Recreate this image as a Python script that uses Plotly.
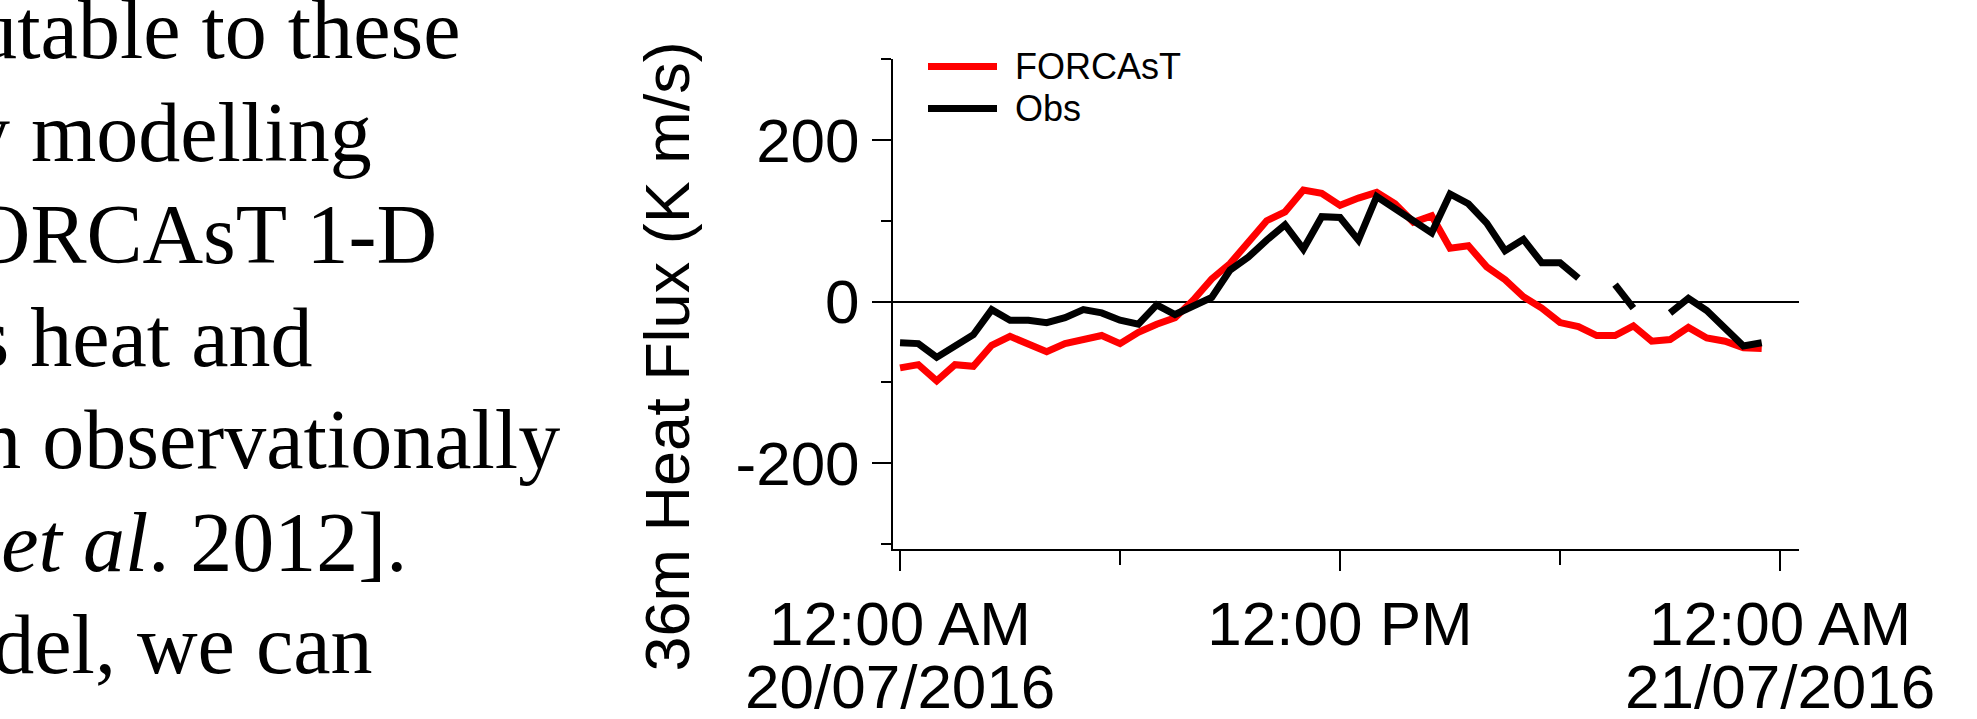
import pandas as pd
import plotly.graph_objects as go

# Half-hourly 36 m sensible heat flux, 20 July 2016
times = pd.date_range("2016-07-20 00:00", periods=48, freq="30min")

forcast = [-82, -78, -98, -78, -80, -54, -43, -52, -62, -52, -47, -42,
           -52, -38, -28, -20, 2, 28, 47, 72, 100, 111, 138, 134,
           119, 128, 135, 121, 98, 106, 66, 69, 43, 27, 6, -8,
           -26, -31, -42, -42, -30, -49, -47, -32, -45, -49, -57, -58]

obs = [-51, -52, -69, -56, -41, -10, -23, -23, -26, -20, -10, -14,
       -23, -28, -4, -16, -6, 5, 39, 55, 76, 95, 65, 105,
       104, 76, 130, 115, 102, 85, 133, 121, 97, 63, 77, 48,
       48, 29, None, 21, -8, None, -14, 4, -11, -33, -55, -51]

series_names = ["FORCAsT", "Obs"]
y_tick_values = [-200, 0, 200]
y_tick_labels = ["-200", "0", "200"]
y_minor_values = [-300, -100, 100, 300]
x_tick_values = ["2016-07-20 00:00", "2016-07-20 12:00", "2016-07-21 00:00"]
x_tick_times = ["12:00 AM", "12:00 PM", "12:00 AM"]
x_tick_dates = ["20/07/2016", "", "21/07/2016"]
x_minor_values = ["2016-07-20 06:00", "2016-07-20 18:00"]

# Surrounding paragraph text (serif body text beside the figure)
paragraph = [
    "attributable to these",
    "by modelling",
    "FORCAsT 1-D",
    "simulates heat and",
    "an observationally",
    "[Bryan <i>et al</i>. 2012].",
    "model, we can",
]
paragraph_right = [460, 372, 437, 312, 560, 407, 372]

W, H = 1977, 719
L, R, T, B = 893, 1799, 59, 549

def px(x):
    return (x - L) / (R - L)

def py(y):
    return (B - y) / (B - T)

SANS = "Liberation Sans, Arial, sans-serif"
SERIF = "Liberation Serif, Times New Roman, serif"
LINE_W = 7

fig = go.Figure()
fig.add_trace(go.Scatter(x=times, y=forcast, mode="lines", name=series_names[0],
                         line=dict(color="#ff0000", width=LINE_W), showlegend=False))
fig.add_trace(go.Scatter(x=times, y=obs, mode="lines", name=series_names[1],
                         line=dict(color="#000000", width=LINE_W), showlegend=False,
                         connectgaps=False))

fig.update_layout(
    width=W, height=H,
    margin=dict(l=L, r=W - R, t=T, b=H - B, pad=0),
    paper_bgcolor="white", plot_bgcolor="white",
    font=dict(family=SANS, color="black"),
)

fig.update_xaxes(
    type="date",
    range=["2016-07-19 23:48:30", "2016-07-21 00:31:00"],
    tickmode="array", tickvals=x_tick_values, ticktext=x_tick_times,
    ticks="outside", ticklen=20, tickwidth=2, tickcolor="black",
    minor=dict(tickvals=x_minor_values, ticks="outside", ticklen=14,
               tickwidth=2, tickcolor="black", showgrid=False),
    showline=True, linewidth=2, linecolor="black",
    showgrid=False, zeroline=False,
    tickfont=dict(family=SANS, size=62, color="black"),
)

fig.update_yaxes(
    range=[-306, 300],
    tickmode="array", tickvals=y_tick_values, ticktext=y_tick_labels,
    ticks="outside", ticklen=19, tickwidth=2, tickcolor="black",
    minor=dict(tickvals=y_minor_values, ticks="outside", ticklen=10,
               tickwidth=2, tickcolor="black", showgrid=False),
    showline=True, linewidth=2, linecolor="black",
    showgrid=False, zeroline=True, zerolinecolor="black", zerolinewidth=2,
    tickfont=dict(family=SANS, size=62, color="black"),
)

annotations = []

# Date line under each time label
for xv, d in zip(x_tick_values, x_tick_dates):
    if d:
        annotations.append(dict(x=xv, xref="x", y=py(686.5), yref="paper",
                                text=d, showarrow=False, xanchor="center",
                                yanchor="middle",
                                font=dict(family=SANS, size=62, color="black")))

# Y-axis title
annotations.append(dict(x=px(666), y=py(356.5), xref="paper", yref="paper",
                        text="36m Heat Flux (K m/s)", textangle=-90,
                        showarrow=False, xanchor="center", yanchor="middle",
                        font=dict(family=SANS, size=63, color="black")))

# Legend
legend_rows = [(series_names[0], "#ff0000", 66.5), (series_names[1], "#000000", 108.5)]
shapes = []
for name, col, yc in legend_rows:
    shapes.append(dict(type="line", xref="paper", yref="paper",
                       x0=px(928), x1=px(997), y0=py(yc), y1=py(yc),
                       line=dict(color=col, width=LINE_W)))
    annotations.append(dict(x=px(1013), y=py(yc), xref="paper", yref="paper",
                            text=name, showarrow=False, xanchor="left",
                            yanchor="middle",
                            font=dict(family=SANS, size=36, color="black")))

# Body text lines
for i, (line, right) in enumerate(zip(paragraph, paragraph_right)):
    baseline = 58 + i * 102.5
    annotations.append(dict(x=px(right + 2), y=py(baseline - 28.4),
                            xref="paper", yref="paper", text=line,
                            showarrow=False, xanchor="right", yanchor="middle",
                            font=dict(family=SERIF, size=84, color="black")))

fig.update_layout(annotations=annotations, shapes=shapes)

fig.write_html("out.html")
